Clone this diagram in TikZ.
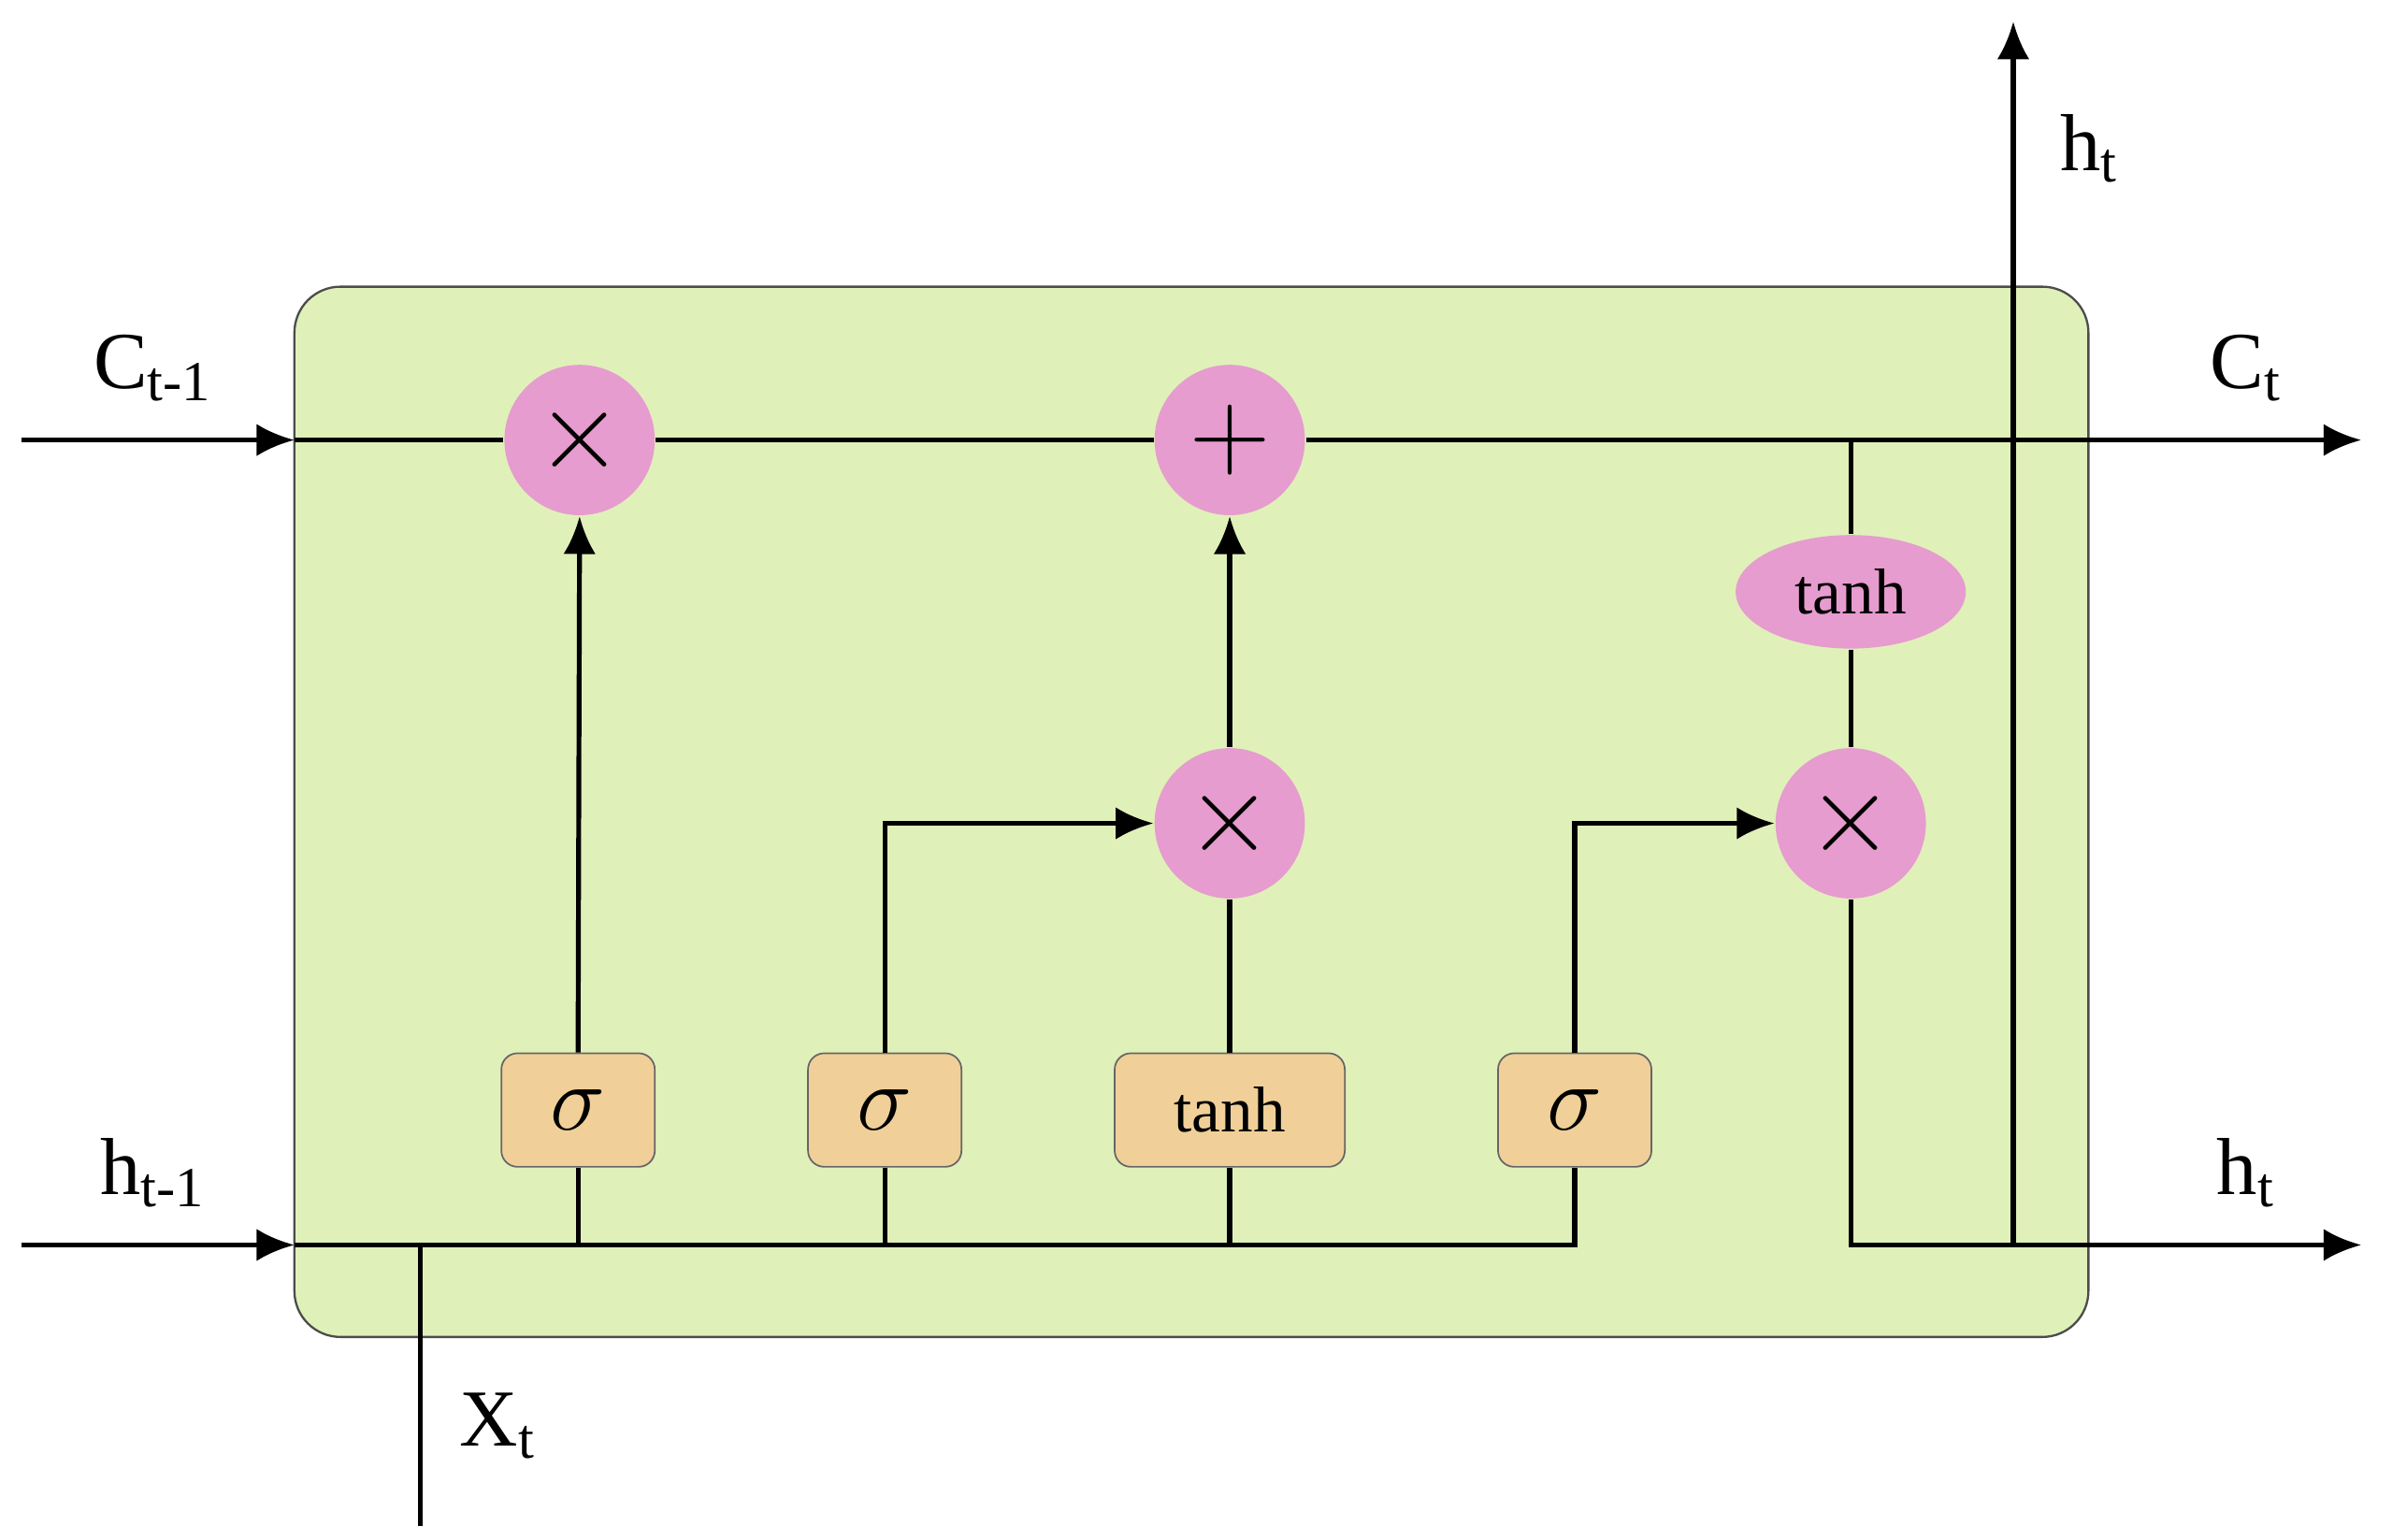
\documentclass[tikz,border=0pt]{standalone}
\usepackage{fontspec}
\setmainfont{Liberation Serif}
\usetikzlibrary{arrows.meta,shapes.geometric}
\definecolor{cellg}{HTML}{E0F0B9}
\definecolor{pinkc}{HTML}{E69CCF}
\definecolor{boxc}{HTML}{F0D098}
\begin{document}
\begin{tikzpicture}[x=0.01cm,y=-0.01cm,
  ln/.style={line width=0.9pt,black},
  ar/.style={ln,-{Latex[length=7pt,width=6pt]}},
  op/.style={circle,fill=pinkc,minimum size=0.98cm,inner sep=0pt,font=\fontsize{22}{22}\selectfont},
  gate/.style={rectangle,rounded corners=3pt,draw=black!60,line width=0.3pt,fill=boxc,minimum height=0.74cm,inner sep=0pt,font=\fontsize{12}{12}\selectfont},
  lab/.style={font=\fontsize{15}{15}\selectfont}]
\useasboundingbox (0,0) rectangle (1560,1004);
\draw[fill=cellg,draw=black!70,line width=0.4pt,rounded corners=0.3cm] (192,187) rectangle (1362,872);
\node[op] (m1) at (378,287) {$\times$};
\node[op] (p1) at (802,287) {$+$};
\node[op] (m2) at (802,537) {$\times$};
\node[op] (m3) at (1207,537) {$\times$};
\node[ellipse,fill=pinkc,minimum width=1.5cm,minimum height=0.74cm,inner sep=0pt,font=\fontsize{12}{12}\selectfont] (th) at (1207,386) {tanh};
\node[gate,minimum width=1cm] (s1) at (377,724) {\fontsize{16}{16}\selectfont$\sigma$};
\node[gate,minimum width=1cm] (s2) at (577,724) {\fontsize{16}{16}\selectfont$\sigma$};
\node[gate,minimum width=1.5cm] (tg) at (802,724) {tanh};
\node[gate,minimum width=1cm] (s3) at (1027,724) {\fontsize{16}{16}\selectfont$\sigma$};
\coordinate (cin) at (14,287); \coordinate (cl) at (192,287); \coordinate (cout) at (1540,287);
\coordinate (hin) at (14,812); \coordinate (hl) at (192,812); \coordinate (hout) at (1540,812);
\coordinate (xb) at (274,995); \coordinate (xt) at (274,812);
\coordinate (htop) at (1313,14); \coordinate (hj) at (1313,812);
\coordinate (cj) at (1207,287); \coordinate (hend) at (1027,812);
% cell line
\draw[ar] (cin) -- (cl);
\draw[ln] (cl) -- (m1.west);
\draw[ln] (m1.east) -- (p1.west);
\draw[ar] (p1.east) -- (cout);
% hidden line
\draw[ar] (hin) -- (hl);
\draw[ln] (hl) -- (hend) -- (s3.south);
\draw[ln] (xb) -- (xt);
\draw[ln] (s1.south) -- (s1.south|-hl);
\draw[ln] (s2.south) -- (s2.south|-hl);
\draw[ln] (tg.south) -- (tg.south|-hl);
% gates
\draw[ar] (s1.north) -- (m1.south);
\draw[ar] (s2.north) |- (m2.west);
\draw[ln] (tg.north) -- (m2.south);
\draw[ar] (m2.north) -- (p1.south);
\draw[ar] (s3.north) |- (m3.west);
\draw[ln] (cj) -- (th.north);
\draw[ln] (th.south) -- (m3.north);
\draw[ar] (m3.south) |- (hout);
\draw[ar] (hj) -- (htop);
% labels
\node[lab] (l1) at (100,240) {C\textsubscript{t-1}};
\node[lab] (l2) at (100,765) {h\textsubscript{t-1}};
\node[lab] (l3) at (1465,240) {C\textsubscript{t}};
\node[lab] (l4) at (1465,765) {h\textsubscript{t}};
\node[lab] (l5) at (1363,97) {h\textsubscript{t}};
\node[lab] (l6) at (325,930) {X\textsubscript{t}};
\end{tikzpicture}
\end{document}
